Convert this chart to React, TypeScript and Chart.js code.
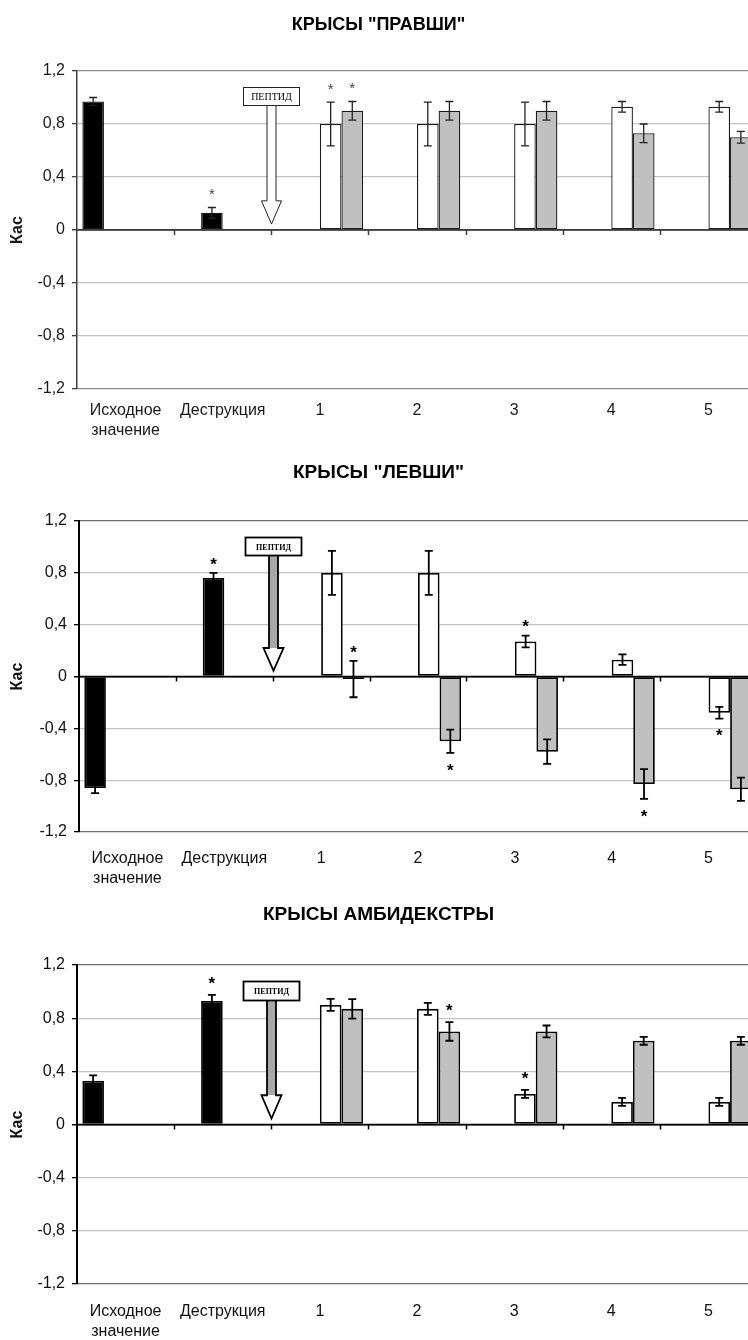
import React, { useEffect, useRef } from "react";
import { Chart, registerables } from "chart.js";

Chart.register(...registerables);

// ---------- shared data ----------
const CATEGORIES: (string | string[])[] = [["Исходное", "значение"], "Деструкция", "1", "2", "3", "4", "5"];
const Y_MIN = -1.2;
const Y_MAX = 1.2;
const Y_STEP = 0.4;
const Y_AXIS_TITLE = "Кас";
const ARROW_TEXT = "ПЕПТИД";
const ARROW_X = 1.5; // category position (between "Деструкция" and "1")
const ARROW_BOX_TOP = 1.08;
const ARROW_BOX_BOTTOM = 0.94;
const ARROW_HEAD_TOP = 0.22;
const ARROW_TIP = 0.045;

// ---------- panel 1: "ПРАВШИ" ----------
const R_TITLE = 'КРЫСЫ "ПРАВШИ"';
const R_BASE = [0.97, null, null, null, null, null, null];
const R_BASE_ERR = [0.03, null, null, null, null, null, null];
const R_DESTR = [null, 0.13, null, null, null, null, null];
const R_DESTR_ERR = [null, 0.04, null, null, null, null, null];
const R_WHITE = [null, null, 0.8, 0.8, 0.8, 0.93, 0.93];
const R_WHITE_ERR = [null, null, 0.165, 0.165, 0.165, 0.04, 0.04];
const R_GREY = [null, null, 0.9, 0.9, 0.9, 0.73, 0.7];
const R_GREY_ERR = [null, null, 0.07, 0.07, 0.07, 0.07, 0.045];
const R_BASE_STAR = [0, 0, 0, 0, 0, 0, 0];
const R_DESTR_STAR = [0, 1, 0, 0, 0, 0, 0];
const R_WHITE_STAR = [0, 0, 1, 0, 0, 0, 0];
const R_GREY_STAR = [0, 0, 1, 0, 0, 0, 0];

// ---------- panel 2: "ЛЕВШИ" ----------
const L_TITLE = 'КРЫСЫ "ЛЕВШИ"';
const L_BASE = [-0.86, null, null, null, null, null, null];
const L_BASE_ERR = [0.04, null, null, null, null, null, null];
const L_DESTR = [null, 0.76, null, null, null, null, null];
const L_DESTR_ERR = [null, 0.04, null, null, null, null, null];
const L_WHITE = [null, null, 0.8, 0.8, 0.27, 0.13, -0.28];
const L_WHITE_ERR = [null, null, 0.17, 0.17, 0.045, 0.04, 0.045];
const L_GREY = [null, null, -0.02, -0.5, -0.58, -0.83, -0.87];
const L_GREY_ERR = [null, null, 0.14, 0.09, 0.095, 0.115, 0.09];
const L_BASE_STAR = [0, 0, 0, 0, 0, 0, 0];
const L_DESTR_STAR = [0, 1, 0, 0, 0, 0, 0];
const L_WHITE_STAR = [0, 0, 0, 0, 1, 0, -1];
const L_GREY_STAR = [0, 0, 1, -1, 0, -1, 0];

// ---------- panel 3: АМБИДЕКСТРЫ ----------
const A_TITLE = "КРЫСЫ АМБИДЕКСТРЫ";
const A_BASE = [0.33, null, null, null, null, null, null];
const A_BASE_ERR = [0.04, null, null, null, null, null, null];
const A_DESTR = [null, 0.93, null, null, null, null, null];
const A_DESTR_ERR = [null, 0.045, null, null, null, null, null];
const A_WHITE = [null, null, 0.9, 0.87, 0.23, 0.17, 0.17];
const A_WHITE_ERR = [null, null, 0.045, 0.045, 0.03, 0.03, 0.03];
const A_GREY = [null, null, 0.87, 0.7, 0.7, 0.63, 0.63];
const A_GREY_ERR = [null, null, 0.074, 0.07, 0.045, 0.03, 0.03];
const A_BASE_STAR = [0, 0, 0, 0, 0, 0, 0];
const A_DESTR_STAR = [0, 1, 0, 0, 0, 0, 0];
const A_WHITE_STAR = [0, 0, 0, 0, 1, 0, 0];
const A_GREY_STAR = [0, 0, 0, 1, 0, 0, 0];

// ---------- layout / style ----------
const FONT = "'Liberation Sans', Arial, sans-serif";
const SERIF = "'Liberation Serif', 'DejaVu Serif', serif";
const CANVAS_W = 757;
const X_AXIS_H = 56;
const TICK_SIZE = 16;

type PanelSpec = {
  title: string;
  series: (number | null)[][];
  errors: (number | null)[][];
  stars: number[][];
  top: number;
  height: number;
  titleY: number;
  titleSize: number;
  plotTop: number;
  plotBottom: number;
  plotLeft: number;
  labelPad: number;
  heavy: boolean;
  starOffset: number;
};

const PANELS: PanelSpec[] = [
  {
    title: R_TITLE,
    series: [R_BASE, R_DESTR, R_WHITE, R_GREY],
    errors: [R_BASE_ERR, R_DESTR_ERR, R_WHITE_ERR, R_GREY_ERR],
    stars: [R_BASE_STAR, R_DESTR_STAR, R_WHITE_STAR, R_GREY_STAR],
    top: 0, height: 450, titleY: 25, titleSize: 18, plotTop: 71, plotBottom: 389, plotLeft: 77, labelPad: 4,
    heavy: false, starOffset: 17,
  },
  {
    title: L_TITLE,
    series: [L_BASE, L_DESTR, L_WHITE, L_GREY],
    errors: [L_BASE_ERR, L_DESTR_ERR, L_WHITE_ERR, L_GREY_ERR],
    stars: [L_BASE_STAR, L_DESTR_STAR, L_WHITE_STAR, L_GREY_STAR],
    top: 450, height: 445, titleY: 473, titleSize: 19, plotTop: 521, plotBottom: 832, plotLeft: 79, labelPad: 9,
    heavy: true, starOffset: 13,
  },
  {
    title: A_TITLE,
    series: [A_BASE, A_DESTR, A_WHITE, A_GREY],
    errors: [A_BASE_ERR, A_DESTR_ERR, A_WHITE_ERR, A_GREY_ERR],
    stars: [A_BASE_STAR, A_DESTR_STAR, A_WHITE_STAR, A_GREY_STAR],
    top: 895, height: 445, titleY: 915, titleSize: 19, plotTop: 965, plotBottom: 1284, plotLeft: 77, labelPad: 9.5,
    heavy: true, starOffset: 16,
  },
];

// ---------- plugins ----------
const errorStarPlugin = {
  id: "errorStars",
  afterDatasetsDraw(chart: any, _args: any, opts: any) {
    const ys = chart.scales.y;
    const ctx = chart.ctx;
    ctx.save();
    chart.data.datasets.forEach((ds: any, di: number) => {
      const meta = chart.getDatasetMeta(di);
      const errs = opts.errors[di] || [];
      const stars = opts.stars[di] || [];
      meta.data.forEach((el: any, i: number) => {
        const v = ds.data[i];
        if (v === null || v === undefined) return;
        const e = errs[i];
        const x = el.x;
        let hi = ys.getPixelForValue(v);
        let lo = hi;
        if (e !== null && e !== undefined) {
          hi = ys.getPixelForValue(v + e);
          lo = ys.getPixelForValue(v - e);
          ctx.strokeStyle = opts.color;
          ctx.lineWidth = opts.width;
          ctx.beginPath();
          ctx.moveTo(x, hi);
          ctx.lineTo(x, lo);
          ctx.moveTo(x - opts.cap, hi);
          ctx.lineTo(x + opts.cap, hi);
          ctx.moveTo(x - opts.cap, lo);
          ctx.lineTo(x + opts.cap, lo);
          ctx.stroke();
        }
        const s = stars[i];
        if (s) {
          const cy = s > 0 ? hi - opts.starOffset : lo + opts.starOffset;
          ctx.fillStyle = opts.starColor;
          ctx.font = opts.starFont;
          ctx.textAlign = "center";
          ctx.textBaseline = "alphabetic";
          ctx.fillText("*", x, cy + opts.starSize * 0.57);
        }
      });
    });
    ctx.restore();
  },
};

const zeroTickPlugin = {
  id: "zeroTicks",
  afterDatasetsDraw(chart: any, _args: any, opts: any) {
    const xs = chart.scales.x;
    const ys = chart.scales.y;
    const ctx = chart.ctx;
    const y0 = ys.getPixelForValue(0);
    ctx.save();
    ctx.strokeStyle = opts.color;
    ctx.lineWidth = opts.width;
    ctx.beginPath();
    ctx.moveTo(chart.chartArea.left, y0);
    ctx.lineTo(chart.chartArea.right, y0);
    const n = chart.data.labels.length;
    for (let i = 1; i <= n; i++) {
      const bx = Math.round(xs.getPixelForValue(i - 0.5)) + 0.5;
      ctx.moveTo(bx, y0);
      ctx.lineTo(bx, y0 + opts.len);
    }
    ctx.stroke();
    ctx.restore();
  },
};

const arrowPlugin = {
  id: "peptideArrow",
  afterDatasetsDraw(chart: any, _args: any, o: any) {
    const xs = chart.scales.x;
    const ys = chart.scales.y;
    const ctx = chart.ctx;
    const cx = Math.round(xs.getPixelForValue(o.x)) + 0.5;
    const bt = Math.round(ys.getPixelForValue(o.boxTop)) + 0.5;
    const bb = Math.round(ys.getPixelForValue(o.boxBottom)) + 0.5;
    const ht = ys.getPixelForValue(o.headTop);
    const tip = ys.getPixelForValue(o.tip);
    ctx.save();
    ctx.lineWidth = o.lineWidth;
    ctx.strokeStyle = o.stroke;
    // shaft
    ctx.fillStyle = o.shaftFill;
    ctx.fillRect(cx - o.shaftHalf, bb, o.shaftHalf * 2, ht - bb);
    // head
    ctx.fillStyle = "#ffffff";
    ctx.beginPath();
    ctx.moveTo(cx - o.headHalf, ht);
    ctx.lineTo(cx, tip);
    ctx.lineTo(cx + o.headHalf, ht);
    ctx.closePath();
    ctx.fill();
    // outline of shaft + head
    ctx.beginPath();
    ctx.moveTo(cx - o.shaftHalf, bb);
    ctx.lineTo(cx - o.shaftHalf, ht);
    ctx.lineTo(cx - o.headHalf, ht);
    ctx.lineTo(cx, tip);
    ctx.lineTo(cx + o.headHalf, ht);
    ctx.lineTo(cx + o.shaftHalf, ht);
    ctx.lineTo(cx + o.shaftHalf, bb);
    ctx.stroke();
    // box
    ctx.fillStyle = "#ffffff";
    ctx.fillRect(cx - o.boxHalf, bt, o.boxHalf * 2, bb - bt);
    ctx.strokeRect(cx - o.boxHalf, bt, o.boxHalf * 2, bb - bt);
    ctx.fillStyle = "#000";
    ctx.font = o.font;
    ctx.textAlign = "center";
    ctx.textBaseline = "middle";
    ctx.fillText(o.text, cx, (bt + bb) / 2 + 1);
    ctx.restore();
  },
};

function fmtTick(value: number) {
  const v = Math.round(value * 10) / 10;
  if (v === 0) return "0";
  return String(v).replace(".", ",");
}

function Panel({ spec }: { spec: PanelSpec }) {
  const ref = useRef<HTMLCanvasElement | null>(null);

  useEffect(() => {
    const s = spec;
    const heavy = s.heavy;
    const titleLH = s.titleSize * 1.2;
    const tPadTop = s.titleY - s.top - titleLH / 2;
    const tPadBottom = s.plotTop - s.top - tPadTop - titleLH;
    const layoutBottom = Math.max(0, s.top + s.height - s.plotBottom - X_AXIS_H);
    const barBorder = heavy ? "#000000" : "#1a1a1a";
    const barBorderW = heavy ? 1.8 : 1.3;
    const fills = ["#000000", "#000000", "#ffffff", "#c0c0c0"];
    const textColor = heavy ? "#111111" : "#1a1a1a";
    const axisColor = heavy ? "#000000" : "#404040";

    const chart = new Chart(ref.current as HTMLCanvasElement, {
      type: "bar",
      data: {
        labels: CATEGORIES as any,
        datasets: s.series.map((d, i) => ({
          label: "s" + i,
          data: d as any,
          backgroundColor: fills[i],
          borderColor: barBorder,
          borderWidth: barBorderW,
          borderSkipped: false,
          categoryPercentage: 0.89,
          barPercentage: 1.0,
        })),
      },
      options: {
        responsive: false,
        maintainAspectRatio: false,
        animation: false,
        devicePixelRatio: 1,
        layout: { padding: { left: 0, right: 0, top: 0, bottom: layoutBottom } },
        scales: {
          x: {
            grid: { display: false },
            border: { display: false },
            ticks: {
              color: textColor,
              font: { family: FONT, size: TICK_SIZE, lineHeight: 20 / TICK_SIZE },
              padding: s.labelPad,
              maxRotation: 0,
              autoSkip: false,
            },
            afterFit: (scale: any) => {
              scale.height = X_AXIS_H;
            },
          },
          y: {
            min: Y_MIN,
            max: Y_MAX,
            ticks: {
              stepSize: Y_STEP,
              color: textColor,
              font: { family: FONT, size: TICK_SIZE },
              padding: 7,
              callback: (v: any) => fmtTick(Number(v)),
            },
            grid: {
              color: (ctx: any) => {
                const v = Math.round((ctx.tick ? ctx.tick.value : 0) * 10) / 10;
                if (v === 0) return axisColor;
                if (Math.abs(v) === 1.2) return heavy ? "#707070" : "#8a8a8a";
                return "#c4c4c4";
              },
              lineWidth: (ctx: any) => {
                const v = Math.round((ctx.tick ? ctx.tick.value : 0) * 10) / 10;
                if (v === 0) return 1.5;
                return 1.3;
              },
              tickColor: axisColor,
              tickLength: 5,
              drawTicks: true,
            },
            border: { display: true, color: axisColor, width: heavy ? 2 : 1.5 },
            title: {
              display: true,
              text: Y_AXIS_TITLE,
              color: textColor,
              font: { family: FONT, size: TICK_SIZE, weight: "bold", lineHeight: 1.2 },
              padding: { top: 8, bottom: 0 },
            },
            afterFit: (scale: any) => {
              scale.width = s.plotLeft;
            },
          },
        },
        plugins: {
          legend: { display: false },
          tooltip: { enabled: false },
          title: {
            display: true,
            text: s.title,
            color: "#000000",
            font: { family: FONT, size: s.titleSize, weight: "bold", lineHeight: 1.2 },
            padding: { top: tPadTop, bottom: tPadBottom },
          },
          errorStars: {
            errors: s.errors,
            stars: s.stars,
            color: heavy ? "#000000" : "#222222",
            width: heavy ? 1.8 : 1.3,
            cap: 4,
            starOffset: s.starOffset,
            starColor: heavy ? "#000000" : "#444444",
            starSize: heavy ? 17 : 15,
            starFont: heavy ? `bold 17px ${FONT}` : `15px ${FONT}`,
          },
          zeroTicks: { color: axisColor, width: 1.5, len: 5 },
          peptideArrow: {
            x: ARROW_X,
            boxTop: ARROW_BOX_TOP,
            boxBottom: ARROW_BOX_BOTTOM,
            headTop: ARROW_HEAD_TOP,
            tip: ARROW_TIP,
            text: ARROW_TEXT,
            boxHalf: 28,
            shaftHalf: 4.5,
            headHalf: 10,
            lineWidth: heavy ? 1.8 : 1,
            stroke: heavy ? "#000000" : "#222222",
            shaftFill: heavy ? "#a8a8a8" : "#ffffff",
            font: heavy ? `bold 8px ${SERIF}` : `10px ${SERIF}`,
          },
        } as any,
      },
      plugins: [errorStarPlugin, zeroTickPlugin, arrowPlugin],
    } as any);

    return () => chart.destroy();
  }, [spec]);

  return (
    <canvas
      ref={ref}
      width={CANVAS_W}
      height={spec.height}
      style={{ position: "absolute", left: 0, top: spec.top, width: CANVAS_W, height: spec.height, display: "block" }}
    />
  );
}

export default function App() {
  return (
    <div
      style={{
        position: "absolute",
        left: 0,
        top: 0,
        width: 748,
        height: 1340,
        overflow: "hidden",
        background: "#ffffff",
      }}
    >
      {PANELS.map((p, i) => (
        <Panel key={i} spec={p} />
      ))}
    </div>
  );
}
